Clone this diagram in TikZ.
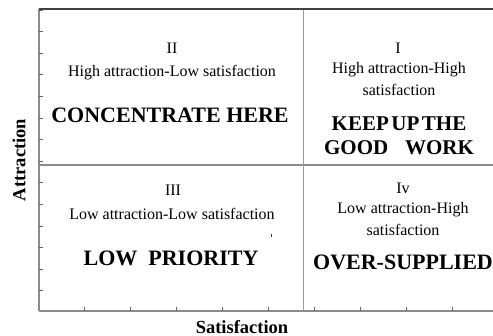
\documentclass[tikz,border=0pt]{standalone}
\usepackage{fontspec}
\setmainfont{Liberation Serif}
\usetikzlibrary{positioning, calc}

\begin{document}
\begin{tikzpicture}[x=1pt, y=-1pt]
    	\tikzstyle{axis}=[draw=black!45, line width=1.5pt];
    	\tikzstyle{tick}=[draw=black!60, line width=0.8pt];
    	\tikzstyle{quad}=[font=\fontsize{16}{18}\selectfont, align=center, inner sep=0pt];
    	\tikzstyle{verdict}=[font=\fontsize{22}{25}\selectfont\bfseries, align=center, inner sep=0pt];
    	\tikzstyle{axislabel}=[font=\fontsize{18.5}{20}\selectfont\bfseries, inner sep=0pt];

    	\useasboundingbox (0, 0) rectangle (493, 336);

    	\coordinate (tl) at (39, 9);
    	\coordinate (tr) at (493, 9);
    	\coordinate (ml) at (39, 165);
    	\coordinate (mr) at (493, 165);
    	\coordinate (bl) at (39, 311);
    	\coordinate (br) at (493, 311);
    	\coordinate (mt) at (303.5, 9);
    	\coordinate (mb) at (303.5, 311);

    	% frame and quadrant lines
    	\draw[axis] (tl) -- (bl);
    	\draw[axis] (bl) -- (br);
    	\draw[axis] (ml) -- (mr);
    	\draw[axis, line width=1.8pt, draw=black!40] (mt) -- (mb);
    	\draw[draw=black!75, line width=1.4pt] (tl) -- (tr);

    	% ticks
    	\foreach \k in {0,...,13}
    		\draw[tick] (39, 10+\k*21.6) -- (43, 10+\k*21.6);
    	\foreach \k in {1,...,9}
    		\draw[tick] (38+\k*46, 311) -- (38+\k*46, 307);

    	% quadrant II
   	\node (q2num) at (172, 48) [quad] {II};
   	\node (q2txt) at (172, 73) [quad] {High attraction-Low satisfaction};
   	\node (q2act) at (170, 115) [verdict] {CONCENTRATE HERE};

    	% quadrant I
   	\node (q1num) at (398, 48) [quad] {I};
   	\node (q1txt) at (399, 79) [quad, text depth=0pt] {High attraction-High\\[4pt]satisfaction};
   	\node (q1act) at (399, 136) [verdict, font=\fontsize{21}{24}\selectfont\bfseries] {KEEP\hspace{0.12em}UP\hspace{0.12em}THE\\GOOD\hspace{0.8em}WORK};

    	% quadrant III
   	\node (q3num) at (173, 190) [quad] {III};
   	\node (q3txt) at (172, 214) [quad] {Low attraction-Low satisfaction};
   	\node (q3act) at (171, 258) [verdict] {LOW\enspace PRIORITY};
   	\draw[black!80, line width=1pt] (271.5, 234) -- (271.5, 237.5);

    	% quadrant IV
   	\node (q4num) at (403, 188) [quad] {Iv};
   	\node (q4txt) at (403, 219) [quad] {Low attraction-High\\[4pt]satisfaction};
   	\node (q4act) at (403, 262) [verdict] {OVER-SUPPLIED};

    	% axis labels
   	\node (ylab) at (19, 160) [axislabel, rotate=90] {Attraction};
   	\node (xlab) at (242, 327) [axislabel] {Satisfaction};

	\end{tikzpicture}
\end{document}
